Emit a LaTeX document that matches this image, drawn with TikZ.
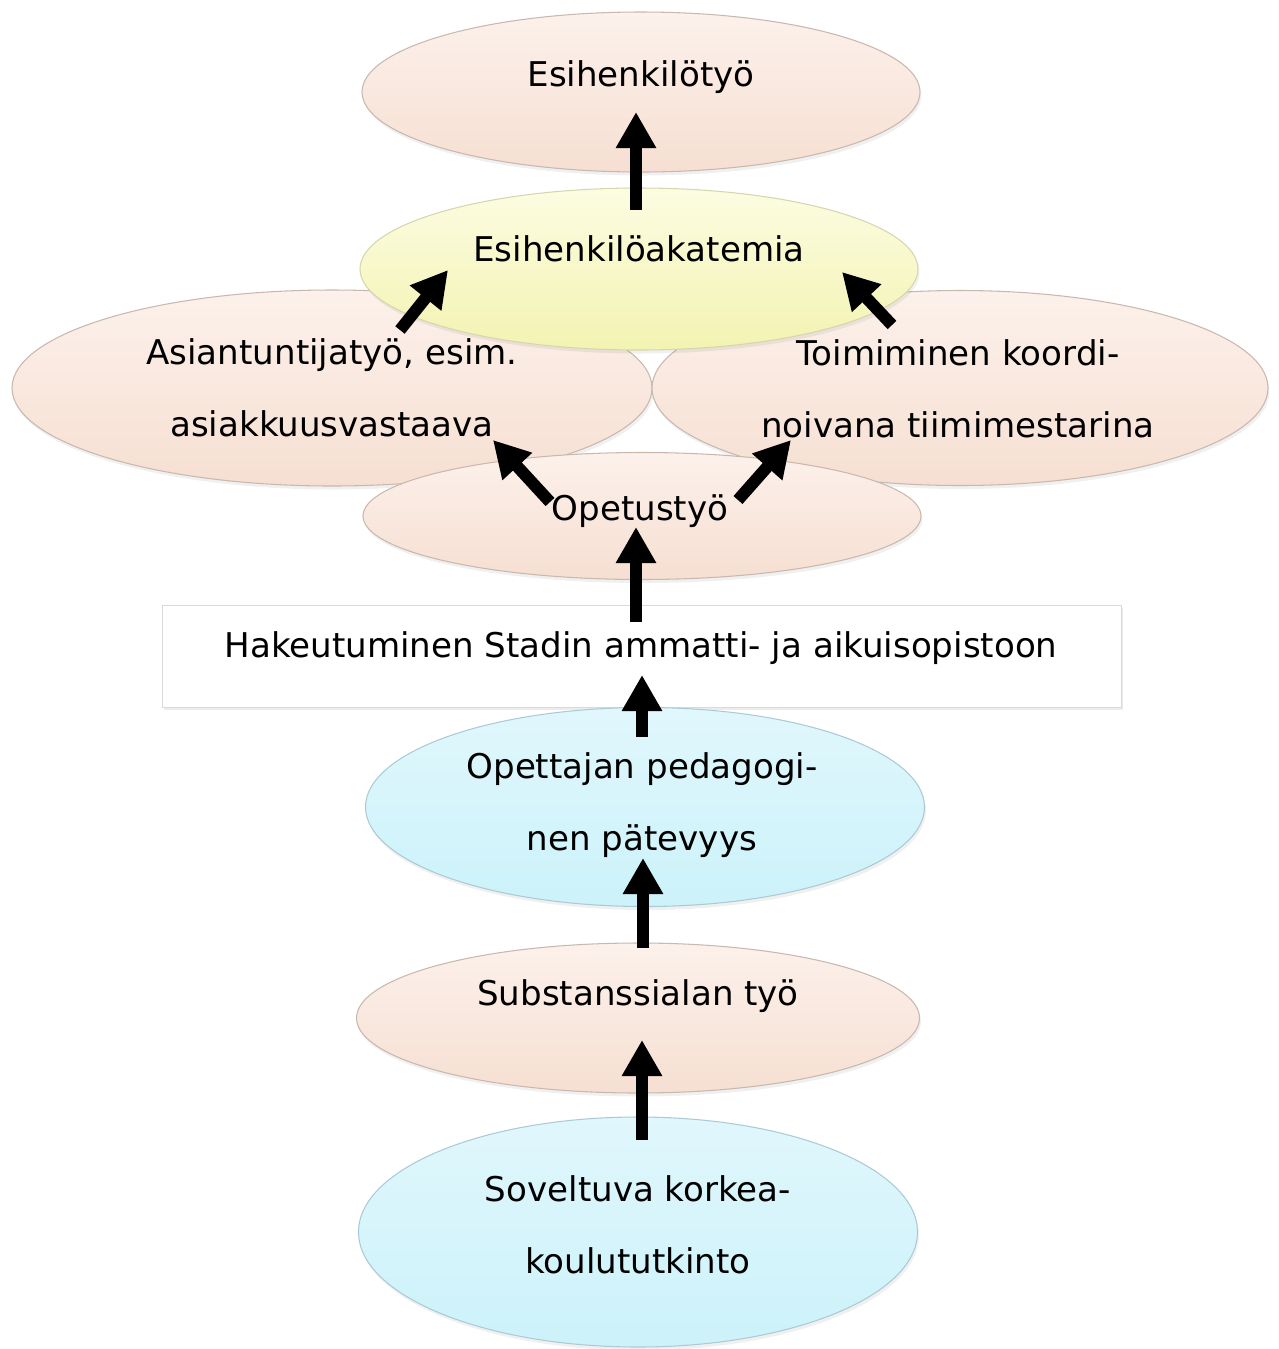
\documentclass[tikz,border=0pt]{standalone}
\usepackage{fontspec}
\setmainfont{DejaVu Sans}
\usetikzlibrary{arrows.meta, positioning, shapes.geometric, shadows, calc}

\definecolor{peachtop}{RGB}{252,241,235}
\definecolor{peachbot}{RGB}{246,223,210}
\definecolor{peachline}{RGB}{200,184,174}
\definecolor{yellowtop}{RGB}{252,252,226}
\definecolor{yellowbot}{RGB}{243,243,178}
\definecolor{yellowline}{RGB}{214,214,172}
\definecolor{bluetop}{RGB}{224,247,252}
\definecolor{bluebot}{RGB}{204,242,250}
\definecolor{blueline}{RGB}{172,202,212}

\begin{document}
\begin{tikzpicture}[
    x=0.2mm, y=-0.2mm,
    oval/.style={ellipse, inner sep=0pt, draw=peachline, line width=0.6pt, top color=peachtop, bottom color=peachbot,
        drop shadow={opacity=0.12, shadow xshift=0.3mm, shadow yshift=-0.7mm}},
    akaoval/.style={oval, draw=yellowline, top color=yellowtop, bottom color=yellowbot},
    blueoval/.style={oval, draw=blueline, top color=bluetop, bottom color=bluebot},
    plainbox/.style={draw=black!15, fill=white, inner sep=0pt, line width=0.5pt,
        drop shadow={opacity=0.15, shadow xshift=0.3mm, shadow yshift=-0.6mm}},
    txt/.style={anchor=base, align=center, font=\fontsize{19.4}{40.5}\selectfont},
    up/.style={-{Triangle[length=7.2mm, width=7.6mm]}, line width=2.4mm}
]
\useasboundingbox (0,0) rectangle (1279,1349);

% shapes
\node[oval, minimum width=128mm, minimum height=39.2mm] (asi) at (332,388) {};
\node[oval, minimum width=123.2mm, minimum height=39mm] (koo) at (960,388) {};
\node[akaoval, minimum width=111.6mm, minimum height=32.4mm] (aka) at (639,269) {};
\node[oval, minimum width=111.6mm, minimum height=32mm] (tyo) at (641,92) {};
\node[oval, minimum width=111.6mm, minimum height=25.4mm] (ope) at (642,516) {};
\node[plainbox, minimum width=191.8mm, minimum height=20.4mm] (hak) at (642,656) {};
\node[blueoval, minimum width=111.8mm, minimum height=39.8mm] (ped) at (645,807) {};
\node[oval, minimum width=112.6mm, minimum height=30mm] (sub) at (638,1018) {};
\node[blueoval, minimum width=111.8mm, minimum height=46mm] (kor) at (638,1232) {};

% texts (base = last line)
\node[txt] (tyo-t) at ($(tyo)+(0,-6)$) {Esihenkilötyö};
\node[txt] (aka-t) at ($(aka)+(0,-8)$) {Esihenkilöakatemia};
\node[txt] (asi-t) at ($(asi)+(0,48)$) {Asiantuntijatyö, esim.\\asiakkuusvastaava};
\node[txt] (koo-t) at ($(koo)+(-2,49)$) {Toimiminen koordi-\\noivana tiimimestarina};
\node[txt] (ope-t) at ($(ope)+(-2,4)$) {Opetustyö};
\node[txt] (hak-t) at ($(hak)+(-1,1)$) {Hakeutuminen Stadin ammatti- ja aikuisopistoon};
\node[txt] (ped-t) at ($(ped)+(-3,43)$) {Opettajan pedagogi-\\nen pätevyys};
\node[txt] (sub-t) at ($(sub)+(0,-13)$) {Substanssialan työ};
\node[txt] (kor-t) at ($(kor)+(0,41)$) {Soveltuva korkea-\\koulututkinto};

% arrows
\draw[up] ($(aka)+(-3,-59)$) -- ($(tyo)+(-5,20)$);
\draw[up] ($(asi)+(68,-58)$) -- ($(aka)+(-191,1)$);
\draw[up] ($(koo)+(-68,-63)$) -- ($(aka)+(203,3)$);
\draw[up] ($(ope)+(-92,-14)$) -- ($(asi)+(161,52)$);
\draw[up] ($(ope)+(96,-16)$) -- ($(koo)+(-169,52)$);
\draw[up] ($(hak)+(-6,-34)$) -- ($(ope)+(-6,11)$);
\draw[up] ($(ped)+(-3,-70)$) -- ($(hak)+(0,19)$);
\draw[up] ($(sub)+(5,-70)$) -- ($(ped)+(-2,51)$);
\draw[up] ($(kor)+(4,-92)$) -- ($(sub)+(4,22)$);
\end{tikzpicture}
\end{document}
